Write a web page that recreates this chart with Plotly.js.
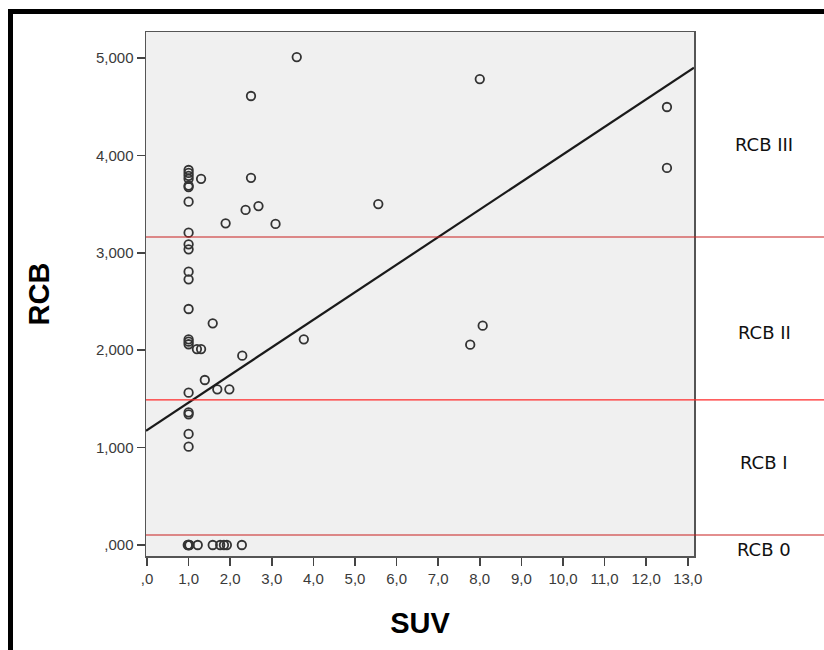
<!DOCTYPE html>
<html><head><meta charset="utf-8">
<script src="https://cdn.plot.ly/plotly-3.0.1.min.js"></script>
<style>html,body{margin:0;padding:0;background:#fff}</style>
</head><body><div id="chart" style="width:824px;height:650px"></div>
<script>
// SUV (x) and RCB (y) values
const suv = [3.6, 8.0, 2.5, 12.5, 12.5, 1.0, 1.0, 1.0, 1.0, 1.0, 1.0, 1.3, 2.5, 1.0, 2.37, 2.68, 1.89, 3.09, 5.56, 1.0,
             1.0, 1.0, 1.0, 1.0, 1.0, 1.58, 1.0, 1.0, 1.0, 1.2, 1.3, 2.29, 1.39, 1.69, 1.98, 1.0, 1.0, 1.0, 1.0, 1.0,
             3.77, 7.77, 8.07, 1.0, 1.0, 0.98, 1.02, 1.22, 1.58, 1.76, 1.85, 1.92, 2.28];
const rcb = [5010, 4784, 4610, 4497, 3871, 3850, 3820, 3790, 3760, 3690, 3675, 3760, 3770, 3525, 3440, 3480, 3303, 3296, 3500, 3207,
             3087, 3036, 2806, 2728, 2423, 2276, 2112, 2088, 2061, 2012, 2012, 1944, 1694, 1598, 1598, 1564, 1362, 1342, 1140, 1009,
             2112, 2057, 2252, 0, 0, 0, 0, 0, 0, 0, 0, 0, 0];
// Linear fit line
const fitIntercept = 1180;
const fitSlope = 283;
// Axis ticks
const xTickVals = [0,1,2,3,4,5,6,7,8,9,10,11,12,13];
const xTickText = [",0","1,0","2,0","3,0","4,0","5,0","6,0","7,0","8,0","9,0","10,0","11,0","12,0","13,0"];
const yTickVals = [0,1000,2000,3000,4000,5000];
const yTickText = [",000","1,000","2,000","3,000","4,000","5,000"];
// RCB class thresholds and labels
const thresholds = [103, 1489, 3162];
const classLabels = ["RCB 0", "RCB I", "RCB II", "RCB III"];
const classLabelY = [-51, 842, 2177, 4117];

const xRange = [-0.024, 13.15];
const yRange = [-113, 5267];

const fitX = [xRange[0], xRange[1]];
const fitY = fitX.map(v => fitIntercept + fitSlope * v);

const L = 146, R = 694, T = 32, B = 556, W = 824, H = 650;
const px = p => (p - L) / (R - L);
const py = p => (B - p) / (B - T);
const yPaper = v => (v - yRange[0]) / (yRange[1] - yRange[0]);

const shapes = thresholds.map((t, i) => ({
  type: 'line', xref: 'paper', yref: 'paper', x0: 0, x1: px(W + 5),
  y0: yPaper(t), y1: yPaper(t), layer: 'above',
  line: {color: i === 1 ? '#ff2a2a' : '#c81e1e', width: i === 1 ? 1.3 : 1.1}
}));
// outer black frame (left and top)
shapes.push({type:'line', xref:'paper', yref:'paper', x0:px(10.5), x1:px(10.5), y0:py(H+10), y1:py(9), line:{color:'#000', width:5}});
shapes.push({type:'line', xref:'paper', yref:'paper', x0:px(8), x1:px(W+10), y0:py(11.5), y1:py(11.5), line:{color:'#000', width:5}});

const annotations = classLabels.map((t, i) => ({
  text: t, xref: 'paper', yref: 'y', x: px(764), y: classLabelY[i],
  xanchor: 'center', yanchor: 'middle', showarrow: false,
  font: {family: 'DejaVu Sans, sans-serif', size: 18, color: '#111'}
}));

const tickFont = {family: 'Liberation Sans, Arial, sans-serif', size: 15, color: '#3a3a3a'};
const titleFont = {family: 'Liberation Sans, Arial, sans-serif', size: 29, color: '#000'};

Plotly.newPlot('chart', [
  {x: suv, y: rcb, type: 'scatter', mode: 'markers',
   marker: {symbol: 'circle-open', size: 8.5, color: '#333', line: {width: 1.8}}, hoverinfo: 'x+y'},
  {x: fitX, y: fitY, type: 'scatter', mode: 'lines', line: {color: '#1a1a1a', width: 2.2}, hoverinfo: 'skip'}
], {
  width: W, height: H, showlegend: false,
  margin: {l: L, r: W - R, t: T, b: H - B, pad: 0},
  paper_bgcolor: '#fff', plot_bgcolor: '#f0f0f0',
  xaxis: {range: xRange, tickvals: xTickVals, ticktext: xTickText, showgrid: false, zeroline: false,
          showline: true, linecolor: '#555', linewidth: 1.5, mirror: true,
          ticks: 'outside', ticklen: 8, tickwidth: 1.5, tickcolor: '#444', tickfont: tickFont,
          title: {text: '<b>SUV</b>', font: titleFont, standoff: 27}},
  yaxis: {range: yRange, tickvals: yTickVals, ticktext: yTickText, showgrid: false, zeroline: false,
          showline: true, linecolor: '#555', linewidth: 1.5, mirror: true,
          ticks: 'outside', ticklen: 8, tickwidth: 1.5, tickcolor: '#444', tickfont: tickFont,
          title: {text: '<b>RCB</b>', font: titleFont, standoff: 38}},
  shapes: shapes, annotations: annotations
}, {displayModeBar: false, staticPlot: true});
</script></body></html>
